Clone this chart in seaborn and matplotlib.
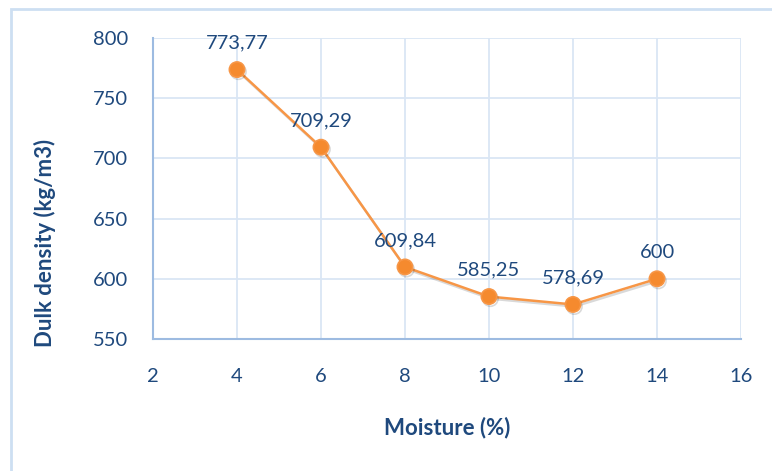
import matplotlib
matplotlib.use("Agg")
import matplotlib.pyplot as plt
import matplotlib.patheffects as pe
import seaborn as sns
import pandas as pd

# data
moisture = [4, 6, 8, 10, 12, 14]
density = [773.77, 709.29, 609.84, 585.25, 578.69, 600]
point_labels = ["773,77", "709,29", "609,84", "585,25", "578,69", "600"]

x_ticks = [2, 4, 6, 8, 10, 12, 14, 16]
y_ticks = [550, 600, 650, 700, 750, 800]

sns.set_style("white")
plt.rcParams['font.family'] = ['Lato', 'DejaVu Sans']

text_col = '#1f497d'
orange = '#f79646'

df = pd.DataFrame({'Moisture': moisture, 'Density': density})

fig = plt.figure(figsize=(7.72, 4.71), dpi=100)
ax = fig.add_axes([153/772, 1 - 339/471, (741 - 153)/772, (339 - 38)/471])

# outer chart frame
fig.patches.append(plt.Rectangle((11/772, -0.1), 1.2, 1 - 9/471 + 0.1,
                                 transform=fig.transFigure, fill=False,
                                 edgecolor='#cddff2', linewidth=2))

sns.lineplot(data=df, x='Moisture', y='Density', ax=ax, color=orange,
             linewidth=1.8, marker='o', markersize=11, markeredgecolor=orange,
             markerfacecolor='#f58a2e', markeredgewidth=1.2,
             path_effects=[pe.SimpleLineShadow(offset=(1, -1.5), alpha=0.15), pe.Normal()])

for xv, yv, lab in zip(moisture, density, point_labels):
    ax.annotate(lab, (xv, yv), xytext=(0, 13), textcoords='offset points',
                ha='center', va='bottom', fontsize=14.5, color=text_col)

ax.set_xlim(2, 16)
ax.set_ylim(550, 800)
ax.set_xticks(x_ticks)
ax.set_yticks(y_ticks)
ax.tick_params(axis='x', length=0, pad=21, labelsize=14.5, labelcolor=text_col)
ax.tick_params(axis='y', length=0, pad=18, labelsize=14.5, labelcolor=text_col)

ax.grid(True, color='#dae6f4', linewidth=1.3)
ax.set_axisbelow(True)
for s in ['top', 'right']:
    ax.spines[s].set_visible(False)
for s in ['left', 'bottom']:
    ax.spines[s].set_color('#9dbbe1')
    ax.spines[s].set_linewidth(1.5)

ax.set_xlabel('Moisture (%)', fontsize=16, fontweight='bold', color=text_col, va='center')
ax.set_ylabel('Dulk density (kg/m3)', fontsize=16, fontweight='bold', color=text_col, va='center')
ax.xaxis.set_label_coords(0.5, (339 - 428) / 301)
ax.yaxis.set_label_coords((45 - 153) / 588, (339 - 243) / 301)

fig.savefig('out.png', dpi=100)
